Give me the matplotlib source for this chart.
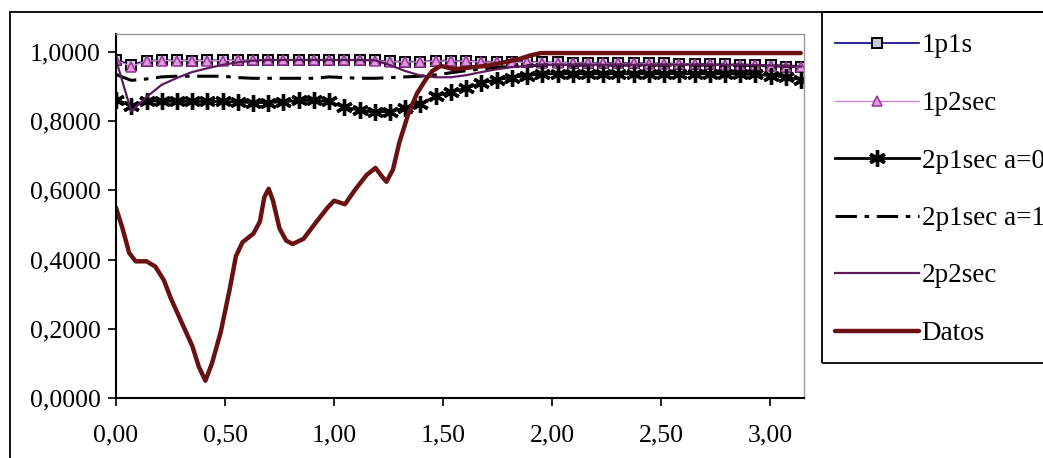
import matplotlib.pyplot as plt
from matplotlib.patches import Rectangle

# angle values (x) shared by the model series
x = [0.000, 0.070, 0.140, 0.209, 0.279, 0.349, 0.419, 0.489, 0.559, 0.628,
     0.698, 0.768, 0.838, 0.908, 0.977, 1.047, 1.117, 1.187, 1.257, 1.326,
     1.396, 1.466, 1.536, 1.606, 1.676, 1.745, 1.815, 1.885, 1.955, 2.025,
     2.094, 2.164, 2.234, 2.304, 2.374, 2.443, 2.513, 2.583, 2.653, 2.723,
     2.793, 2.862, 2.932, 3.002, 3.072, 3.142]

p1s = [0.978, 0.963, 0.975, 0.976, 0.976, 0.975, 0.976, 0.976, 0.976, 0.976,
       0.977, 0.977, 0.977, 0.977, 0.977, 0.977, 0.977, 0.976, 0.973, 0.972,
       0.972, 0.975, 0.975, 0.974, 0.972, 0.972, 0.972, 0.971, 0.970, 0.970,
       0.969, 0.969, 0.968, 0.968, 0.968, 0.967, 0.967, 0.966, 0.966, 0.965,
       0.964, 0.963, 0.962, 0.961, 0.958, 0.957]

p2sec = [0.976, 0.958, 0.974, 0.975, 0.975, 0.975, 0.975, 0.975, 0.976, 0.976,
         0.976, 0.976, 0.976, 0.976, 0.976, 0.976, 0.976, 0.975, 0.972, 0.971,
         0.971, 0.974, 0.974, 0.973, 0.971, 0.971, 0.971, 0.970, 0.969, 0.969,
         0.968, 0.968, 0.967, 0.967, 0.967, 0.966, 0.966, 0.965, 0.965, 0.964,
         0.963, 0.962, 0.961, 0.960, 0.957, 0.956]

a0 = [0.862, 0.845, 0.858, 0.858, 0.857, 0.857, 0.857, 0.857, 0.855, 0.854,
      0.854, 0.856, 0.860, 0.860, 0.857, 0.840, 0.832, 0.826, 0.828, 0.838,
      0.850, 0.872, 0.885, 0.895, 0.910, 0.920, 0.926, 0.932, 0.937, 0.937,
      0.937, 0.937, 0.937, 0.937, 0.937, 0.937, 0.937, 0.937, 0.937, 0.937,
      0.937, 0.936, 0.935, 0.932, 0.928, 0.920]

a1 = [0.935, 0.918, 0.922, 0.928, 0.930, 0.930, 0.930, 0.930, 0.926, 0.924,
      0.924, 0.924, 0.924, 0.924, 0.928, 0.926, 0.924, 0.924, 0.926, 0.928,
      0.930, 0.934, 0.940, 0.946, 0.951, 0.955, 0.958, 0.960, 0.962, 0.962,
      0.962, 0.962, 0.962, 0.962, 0.962, 0.962, 0.962, 0.962, 0.962, 0.962,
      0.962, 0.962, 0.961, 0.960, 0.959, 0.958]

p2p2 = [0.978, 0.828, 0.870, 0.905, 0.925, 0.942, 0.953, 0.963, 0.970, 0.975,
        0.977, 0.977, 0.977, 0.977, 0.977, 0.977, 0.977, 0.976, 0.962, 0.945,
        0.932, 0.927, 0.927, 0.933, 0.942, 0.950, 0.956, 0.960, 0.963, 0.963,
        0.963, 0.963, 0.963, 0.963, 0.963, 0.963, 0.963, 0.963, 0.963, 0.963,
        0.963, 0.963, 0.962, 0.961, 0.959, 0.958]

# measured data has its own sampling
x_datos = [0.00, 0.03, 0.06, 0.09, 0.14, 0.18, 0.22, 0.25, 0.30, 0.35,
           0.38, 0.41, 0.44, 0.48, 0.52, 0.55, 0.58, 0.63, 0.66, 0.68,
           0.70, 0.72, 0.75, 0.78, 0.81, 0.86, 0.92, 0.97, 1.00, 1.05,
           1.10, 1.15, 1.19, 1.22, 1.24, 1.27, 1.30, 1.34, 1.38, 1.42,
           1.45, 1.49, 1.55, 1.62, 1.70, 1.78, 1.85, 1.90, 1.95, 2.00, 3.14]
datos = [0.550, 0.490, 0.420, 0.395, 0.395, 0.380, 0.340, 0.290, 0.220, 0.150,
         0.090, 0.050, 0.100, 0.190, 0.310, 0.410, 0.450, 0.475, 0.510, 0.580,
         0.605, 0.570, 0.490, 0.455, 0.445, 0.460, 0.510, 0.550, 0.570, 0.560,
         0.605, 0.645, 0.665, 0.640, 0.625, 0.660, 0.740, 0.820, 0.880, 0.920,
         0.945, 0.960, 0.950, 0.955, 0.960, 0.970, 0.980, 0.990, 0.997, 0.997, 0.997]

x_ticks = [0.0, 0.5, 1.0, 1.5, 2.0, 2.5, 3.0]
y_ticks = [0.0, 0.2, 0.4, 0.6, 0.8, 1.0]

plt.rcParams["font.family"] = ["Liberation Serif", "DejaVu Serif"]

W, H = 1043, 458
fig = plt.figure(figsize=(W / 100, H / 100), dpi=100)
# outer chart frame, its right and bottom edges fall outside the picture
top = 1 - 12 / H
fig.patches.append(Rectangle((10 / W, -0.2), 1.2, top + 0.2,
                             transform=fig.transFigure, fill=False,
                             edgecolor="black", linewidth=1.3))
# legend frame, open to the right edge like the original
fig.patches.append(Rectangle((822 / W, 1 - 363 / H), 0.5, (363 - 12) / H,
                             transform=fig.transFigure, fill=False,
                             edgecolor="black", linewidth=1.3))

ax = fig.add_axes([116 / W, 1 - 398 / H, (804 - 116) / W, (398 - 34) / H])

star = (6, 2, 0)
l_1p1s, = ax.plot(x, p1s, color="#000080", lw=1.2, marker="s", ms=6.5,
                  mfc="#c8c8d8", mec="black", mew=1.4)
l_1p2, = ax.plot(x, p2sec, color="#cc88cc", lw=1.0, marker="^", ms=6.5,
                 mfc="#dd99dd", mec="#993399", mew=1.1)
l_a0, = ax.plot(x, a0, color="black", lw=2.0, marker=star, ms=12, mew=2.4)
l_a1, = ax.plot(x, a1, color="black", lw=2.2, ls=(0, (7, 2.5, 1.5, 2.5)))
l_22, = ax.plot(x, p2p2, color="#5c1a5c", lw=1.6)
l_d, = ax.plot(x_datos, datos, color="#6a1212", lw=3.2, solid_capstyle="round")

ax.set_xlim(0, 3.155)
ax.set_ylim(0, 1.052)
ax.set_xticks(x_ticks)
ax.set_yticks(y_ticks)
ax.set_xticklabels([f"{v:.2f}".replace(".", ",") for v in x_ticks])
ax.set_yticklabels([f"{v:.4f}".replace(".", ",") for v in y_ticks])
ax.tick_params(axis="y", direction="out", length=6, width=1.2, pad=5, labelsize=18.5)
ax.tick_params(axis="x", direction="out", length=6, width=1.2, pad=13, labelsize=18.5)
for side in ["left", "bottom"]:
    ax.spines[side].set_linewidth(1.5)
for side in ["top", "right"]:
    ax.spines[side].set_color("#999999")
    ax.spines[side].set_linewidth(1.0)

fig.legend([l_1p1s, l_1p2, l_a0, l_a1, l_22, l_d],
           ["1p1s", "1p2sec", "2p1sec a=0", "2p1sec a=1", "2p2sec", "Datos"],
           loc="upper left", bbox_to_anchor=(835 / W, 1 - 33.5 / H),
           borderaxespad=0, borderpad=0, fontsize=19.5, handlelength=3.1,
           handletextpad=0.1, labelspacing=1.2, frameon=False)

fig.savefig("out.png", dpi=100)
